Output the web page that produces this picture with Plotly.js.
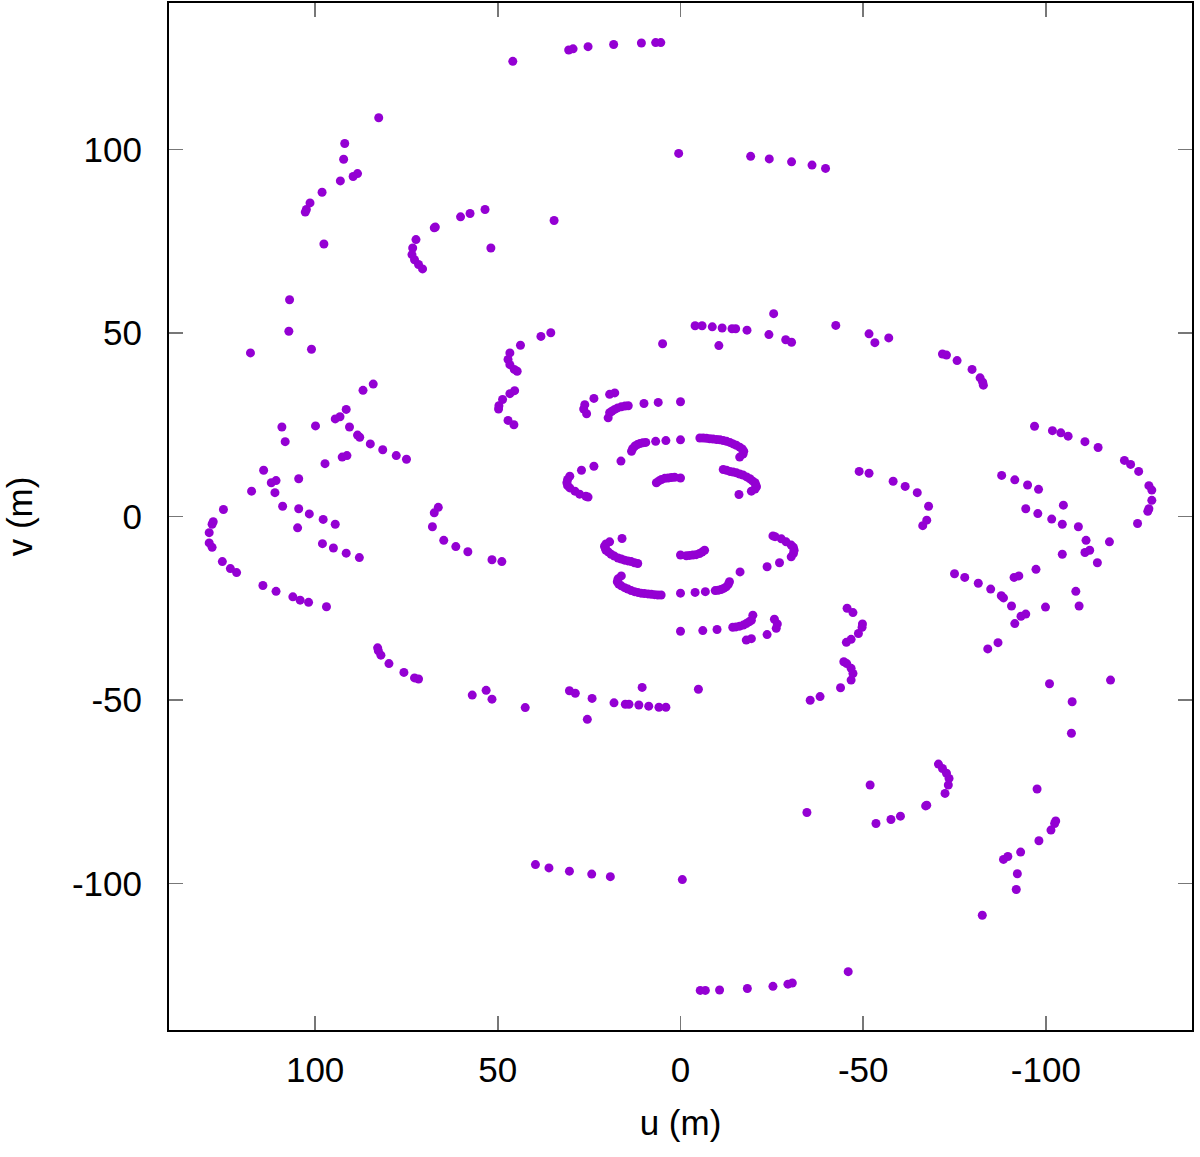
<!DOCTYPE html>
<html>
<head>
<meta charset="utf-8">
<script src="https://cdn.plot.ly/plotly-3.0.1.min.js"></script>
<style>
  body { margin: 0; background: #fff; }
  #myDiv { width: 1200px; height: 1157px; }
</style>
</head>
<body>
<div id="myDiv"></div>
<script>
// uv samples with v > 0; the other half is the
// complex conjugate (-u, -v) of each visibility, as in any uv-coverage plot
var uHalf = [
  45.9, 30.6, 29.4, 25.3, 18.3, 10.7, 6.8, 5.4,
  82.6, 91.9, 92.2, 88.4, 89.6, 93.1, 98.1, 101.4, 102.4, 102.7, 97.6,
  53.5, 57.6, 60.2, 67.1, 67.4, 51.9,
  72.4, 73.3, 73.5, 72.8, 71.7, 70.6, 34.6,
  0.5, -19.2, -24.3, -30.4, -36.0, -39.7,
  107.0, 107.2, 117.7, 101.0,
  84.1, 86.9, 91.5, 93.2, 94.5, 90.6, 88.4, 87.8, 84.9, 81.5, 77.8, 75.0,
  109.1, 108.2, 99.9, 91.3, 92.6, 97.3,
  114.1, 110.7, 112.0, 104.5, 117.4, 111.0,
  125.1, 108.9, 104.5, 101.6, 66.3, 67.4,
  35.5, 38.2, 43.8,
  46.7, 47.2, 46.7, 45.5, 44.7,
  45.4, 46.7, 48.7, 49.7, 49.8, 47.2, 45.6,
  4.9, -4.0, -5.9, -8.7, -11.4, -14.1, -15.1, -18.2, -10.5, -25.5, -24.2, -28.8, -30.4, -42.5,
  23.7, 19.4, 18.0, 26.2, 26.5, 25.7,
  19.8, 19.4, 18.8, 18.0, 17.2, 16.2, 15.2, 14.3, 10.0, 6.1, 0.0,
  13.4, 13.1, 12.5, 11.8, 11.1, 10.3, 9.5, 6.8, 4.0, 0.0,
  -5.3, -6.2, -7.1, -8.0, -8.9, -9.9, -10.8, -11.7, -12.6, -13.5, -14.4, -15.3, -16.2, -16.9, -17.3, -17.1, -16.2,
  27.1, 23.7, 16.3,
  30.3, 30.9, 31.1, 30.9, 30.3, 28.9, 27.6, 25.9, 25.3,
  6.6, 5.9, 5.2, 4.3, 3.4, 2.5, 1.6, 0.0,
  -11.7, -12.6, -13.5, -14.4, -15.3, -16.2, -17.1, -18.1, -19.0, -19.7, -20.4, -20.6, -20.8, -20.4, -19.4, -16.0,
  -51.6, -53.2, -57.0,
  -71.7, -72.8, -75.7, -79.8, -82.0, -82.7, -82.9,
  -96.9, -101.8, -104.1, -106.1, -110.7, -114.3, -121.5, -123.2, -125.4, -128.2, -129.0, -129.0, -128.2, -127.9,
  -48.9, -51.6, -58.2, -61.5, -64.8, -67.9,
  -87.9, -91.5, -95.0, -98.0, -104.8, -94.5, -97.8
];

var vHalf = [
  124.1, 127.2, 127.5, 128.1, 128.7, 129.1, 129.2, 129.2,
  108.7, 101.7, 97.4, 93.5, 92.7, 91.5, 88.4, 85.5, 83.7, 83.0, 74.3,
  83.7, 82.6, 81.7, 78.9, 78.7, 73.2,
  75.5, 73.2, 71.4, 70.0, 68.7, 67.5, 80.7,
  99.0, 98.2, 97.5, 96.7, 95.8, 94.9,
  59.1, 50.5, 44.6, 45.6,
  36.1, 34.4, 29.2, 27.2, 26.6, 24.4, 22.2, 21.6, 19.8, 18.2, 16.6, 15.6,
  24.4, 20.4, 24.7, 16.6, 16.2, 14.4,
  12.6, 9.8, 9.2, 10.3, 6.9, 6.5,
  1.9, 2.8, 2.1, 0.7, 2.5, 1.0,
  50.1, 49.1, 46.7,
  44.6, 42.8, 41.4, 40.1, 39.6,
  34.3, 33.5, 31.9, 30.2, 29.3, 26.2, 25.0,
  47.1, 52.0, 52.0, 51.7, 51.4, 51.2, 51.2, 50.8, 46.6, 55.3, 49.6, 48.2, 47.5, 52.1,
  32.2, 33.3, 33.7, 30.5, 29.3, 28.0,
  26.9, 28.3, 28.7, 29.2, 29.6, 29.9, 30.1, 30.2, 30.8, 31.1, 31.3,
  17.8, 18.5, 19.2, 19.6, 19.9, 20.1, 20.2, 20.5, 20.7, 20.9,
  21.4, 21.4, 21.3, 21.2, 21.1, 21.0, 20.9, 20.7, 20.5, 20.2, 19.8, 19.4, 18.9, 18.4, 17.8, 17.0, 16.2,
  12.6, 13.7, 15.1,
  11.0, 10.1, 9.2, 8.4, 7.8, 6.9, 6.1, 5.5, 5.3,
  9.2, 9.7, 10.1, 10.4, 10.5, 10.6, 10.7, 10.5,
  12.8, 12.6, 12.3, 12.1, 11.9, 11.6, 11.3, 10.8, 10.3, 9.7, 9.2, 8.6, 8.1, 7.5, 6.9, 6.0,
  49.8, 47.4, 48.7,
  44.3, 44.0, 42.5, 40.1, 37.8, 36.6, 35.8,
  24.6, 23.4, 22.8, 21.9, 20.4, 18.8, 15.3, 14.2, 12.3, 8.4, 7.2, 4.4, 2.1, 1.4,
  12.3, 11.8, 9.6, 8.2, 6.5, 2.8,
  11.2, 10.0, 8.6, 7.4, 3.1, 2.1, 0.8
];

var tickVals = [-100, -50, 0, 50, 100];
var tickText = ["-100", "-50", "0", "50", "100"];
var xLabel = "u (m)";
var yLabel = "v (m)";

var uAll = uHalf.concat(uHalf.map((u) => -u));
var vAll = vHalf.concat(vHalf.map((v) => -v));

var trace = {
  type: "scatter",
  mode: "markers",
  x: uAll,
  y: vAll,
  marker: { size: 9, color: "#9400d3" },
  hoverinfo: "x+y",
};

var font = "Liberation Sans, Arial, sans-serif";

var axisStyle = {
  showgrid: false,
  zeroline: false,
  showline: true,
  linecolor: "#000",
  linewidth: 2,
  mirror: "allticks",
  ticks: "inside",
  ticklen: 14,
  tickwidth: 1.5,
  tickcolor: "#777",
  tickmode: "array",
  tickvals: tickVals,
  ticktext: tickText,
  tickfont: { family: font, size: 35, color: "#000" },
};

var layout = {
  width: 1200,
  height: 1157,
  margin: { l: 169, r: 8, t: 3, b: 127 },
  paper_bgcolor: "#fff",
  plot_bgcolor: "#fff",
  showlegend: false,
  xaxis: Object.assign({}, axisStyle, {
    range: [140, -140],
    ticklabelstandoff: 8,
    title: { text: xLabel, standoff: 22, font: { family: font, size: 35, color: "#000" } },
  }),
  yaxis: Object.assign({}, axisStyle, {
    range: [-140, 140],
    ticklabelstandoff: 18,
    title: { text: yLabel, standoff: 30, font: { family: font, size: 35, color: "#000" } },
  }),
};

document.addEventListener("DOMContentLoaded", () => {
  Plotly.newPlot("myDiv", [trace], layout, { displayModeBar: false, staticPlot: true });
});
</script>
</body>
</html>
